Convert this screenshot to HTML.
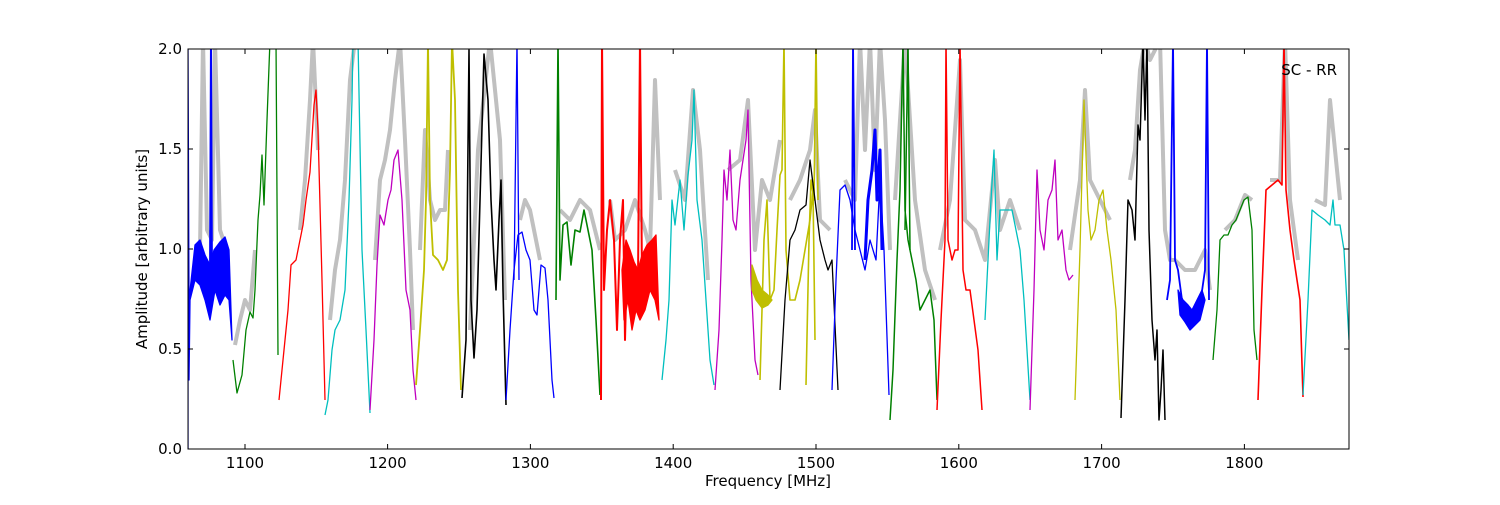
<!DOCTYPE html>
<html><head><meta charset="utf-8"><style>
body{margin:0;background:#fff;width:1500px;height:500px;overflow:hidden}
text{font-family:"DejaVu Sans","Liberation Sans",sans-serif;font-size:15px;fill:#000}
</style></head><body>
<svg width="1500" height="500" viewBox="0 0 1500 500">
<defs><clipPath id="c"><rect x="188" y="49" width="1161" height="400"/></clipPath></defs>
<g clip-path="url(#c)" fill="none" stroke-linejoin="round">
<g stroke="#c0c0c0" stroke-width="4">
<polyline points="200,250 203,40 207,230 212,240 215,40 220,230 225,245"/>
<polyline points="235,345 240,320 245,300 250,310 255,250"/>
<polyline points="300,230 305,180 310,100 313,40 318,150"/>
<polyline points="330,320 335,270 340,240 345,180 350,80 355,40"/>
<polyline points="375,260 380,180 385,160 390,130 395,80 400,40 405,140 410,250 413,330"/>
<polyline points="420,250 425,130 430,200 435,220 440,210 445,210 448,150"/>
<polyline points="470,330 478,150 490,40 500,140 505,300"/>
<polyline points="520,220 525,200 530,210 540,260"/>
<polyline points="560,210 570,220 580,200 590,210 600,250"/>
<polyline points="610,200 615,240 625,230 635,200 645,230 650,250 655,80 660,200"/>
<polyline points="675,170 685,200 693,90 700,150 708,280"/>
<polyline points="728,170 740,160 748,100 755,250 762,180 770,200 775,170 780,140"/>
<polyline points="790,200 800,180 810,150 815,110 820,220 830,230"/>
<polyline points="845,180 855,200 860,40 865,150 870,40 875,170 880,40 885,120 890,250"/>
<polyline points="895,200 905,40 915,200 925,270 935,300"/>
<polyline points="940,250 950,200 960,60 965,220 975,230 985,260 995,160 1000,230 1010,200 1020,230"/>
<polyline points="1070,250 1080,180 1085,90 1090,180 1100,200 1110,220"/>
<polyline points="1130,180 1135,150 1140,70 1145,40 1150,60 1160,40 1165,230 1170,260 1175,260 1185,270 1195,270 1205,250 1210,290"/>
<polyline points="1225,230 1235,220 1245,195 1252,200"/>
<polyline points="1270,180 1280,180 1285,40 1290,200 1298,260"/>
<polyline points="1315,200 1325,205 1330,100 1335,150 1340,200"/>
</g>
<g stroke-width="1.3">
<polygon fill="#0000ff" stroke="#0000ff" points="189,300 195,245 200,240 205,255 210,265 214,250 220,242 225,237 229,250 232,340 229,300 225,295 220,305 215,290 210,320 205,300 200,285 195,280 190,300 189,380"/>
<polyline stroke="#0000ff" points="188,449 188,49 189,300"/>
<polyline stroke="#0000ff" stroke-width="2" points="210,280 211,40 212,290"/>
<polyline stroke="#008000" points="233,360 237,393 242,375 246,330 250,312 253,318 255,290 258,220 260,195 262,155 264,205 267,120 270,40 276,40 278,355"/>
<polyline stroke="#ff0000" points="279,400 284,350 288,310 291,265 296,260 300,240 303,225 306,200 310,172 314,105 316,90 318,130 322,280 325,400"/>
<polyline stroke="#00bfbf" points="325,415 328,400 332,350 335,330 340,320 345,290 349,200 352,100 353,40 358,40 362,250 366,330 370,413"/>
<polyline stroke="#bf00bf" points="370,410 374,340 377,265 380,215 384,225 388,200 391,190 394,160 398,150 402,200 406,290 410,310 413,370 416,400"/>
<polyline stroke="#bfbf00" stroke-width="1.8" points="416,385 420,330 424,270 426,200 428,40 430,200 433,255 438,260 443,270 447,260 450,170 452,40 455,100 458,290 461,390"/>
<polyline stroke="#000000" stroke-width="1.6" points="462,398 466,340 469,50 471,300 474,358 477,310 480,200 484,54 488,100 491,200 494,260 496,290 499,220 501,180 503,290 506,405"/>
<polyline stroke="#0000ff" points="506,400 510,330 514,270 518,235 522,232 526,250 530,260 534,310 537,315 541,265 545,268 548,300 552,380 554,398"/>
<polyline stroke="#0000ff" points="514,280 517,40 519,280"/>
<polyline stroke="#008000" stroke-width="1.6" points="556,300 558,40 560,280 563,225 567,222 571,265 575,230 580,232 584,210 588,230 592,250 596,320 600,395"/>
<polyline stroke="#ff0000" stroke-width="2" points="601,400 602,40 604,290 607,230 610,200 614,240 617,330 620,240 623,200 625,340 626,300"/>
<polygon fill="#ff0000" stroke="#ff0000" points="622,270 626,240 630,250 634,262 638,270 642,255 647,245 652,240 656,235 659,320 655,300 650,290 645,310 640,320 636,310 632,330 628,300 624,320"/>
<polyline stroke="#ff0000" stroke-width="2" points="638,280 640,40 642,280"/>
<polyline stroke="#00bfbf" points="662,380 666,340 669,300 672,200 675,225 680,180 684,230 688,175 692,140 694,90 697,200 702,240 706,300 710,360 714,385"/>
<polyline stroke="#bf00bf" points="715,390 719,330 722,240 724,170 727,200 730,150 733,220 736,230 740,180 743,160 746,140 748,110 751,280 755,360 758,375"/>
<polyline stroke="#bfbf00" stroke-width="1.6" points="760,380 764,240 767,200 770,300 774,290 777,230 780,175 782,170 784,40 786,250 790,300 795,300 800,280 805,250 810,220 813,190 815,340"/>
<polygon fill="#bfbf00" stroke="#bfbf00" points="752,265 757,280 762,290 768,295 772,300 768,305 762,308 756,300 752,290"/>
<polyline stroke="#bfbf00" stroke-width="1.6" points="806,385 809,240 811,180 814,200 816,40 818,200"/>
<polyline stroke="#000000" points="780,390 785,300 790,240 795,230 800,210 806,205 810,160 815,200 820,240 825,260 828,270 832,260 838,390"/>
<polyline stroke="#0000ff" points="832,390 836,280 840,190 845,185 850,200 855,230 860,250 865,270 870,240 876,260 880,180 884,250 889,395"/>
<polyline stroke="#0000ff" stroke-width="3" points="865,260 868,200 872,170 875,130 877,200 880,150 882,250"/>
<polyline stroke="#0000ff" stroke-width="1.8" points="852,250 853,40 855,250"/>
<polyline stroke="#008000" stroke-width="1.5" points="890,420 893,370 897,260 900,190 903,40 905,210 908,240 912,260 916,280 920,310 925,300 930,290 934,320 937,400"/>
<polyline stroke="#008000" stroke-width="1.5" points="905,230 908,40 910,250"/>
<polyline stroke="#ff0000" stroke-width="1.5" points="937,410 941,320 945,240 946,40 948,240 952,260 955,250 958,250 960,40 963,270 966,290 970,290 974,320 978,350 982,410"/>
<polyline stroke="#00bfbf" points="985,320 988,260 991,200 994,150 997,260 1000,210 1004,210 1008,210 1012,210 1016,230 1020,250 1024,300 1030,400"/>
<polyline stroke="#bf00bf" points="1030,410 1034,290 1037,170 1040,230 1044,250 1048,200 1052,190 1055,160 1058,240 1062,230 1066,270 1069,280 1073,275"/>
<polyline stroke="#bfbf00" points="1075,400 1080,250 1084,100 1088,210 1091,240 1095,230 1099,200 1103,190 1107,230 1111,260 1116,310 1120,400"/>
<polyline stroke="#000000" stroke-width="1.5" points="1121,418 1125,300 1128,200 1132,210 1135,240 1138,125 1140,140 1143,40 1145,120 1147,40 1149,230 1152,320 1155,360 1157,330 1159,420 1161,390 1163,350 1165,420"/>
<polyline stroke="#0000ff" stroke-width="1.8" points="1167,300 1170,280 1173,40 1175,260 1178,270 1182,300 1186,310 1190,320 1195,310 1200,305 1205,270 1207,40 1209,300"/>
<polygon fill="#0000ff" stroke="#0000ff" points="1178,290 1183,300 1188,305 1192,310 1197,300 1202,290 1205,300 1200,320 1195,325 1190,330 1185,322 1180,315"/>
<polyline stroke="#008000" points="1213,360 1217,310 1220,240 1224,235 1228,235 1232,225 1236,220 1240,210 1244,200 1248,197 1252,230 1254,330 1257,360"/>
<polyline stroke="#ff0000" stroke-width="1.6" points="1258,400 1262,290 1266,190 1272,185 1278,180 1282,185 1284,40 1286,190 1290,230 1294,260 1297,280 1300,300 1303,397"/>
<polyline stroke="#00bfbf" points="1303,395 1308,300 1312,210 1318,215 1325,220 1330,225 1333,200 1335,225 1340,225 1344,250 1349,340"/>
</g>
</g>
<rect x="188" y="49" width="1161" height="400" fill="none" stroke="#000" stroke-width="1"/>
<g stroke="#000" stroke-width="1">
<path d="M245,449v-5M387.6,449v-5M530.4,449v-5M673.2,449v-5M816,449v-5M958.8,449v-5M1101.6,449v-5M1244.4,449v-5"/>
<path d="M245,49v5M387.6,49v5M530.4,49v5M673.2,49v5M816,49v5M958.8,49v5M1101.6,49v5M1244.4,49v5"/>
<path d="M188,449h5M188,349h5M188,249h5M188,149h5M188,49h5M1349,449h-5M1349,349h-5M1349,249h-5M1349,149h-5M1349,49h-5"/>
</g>
<g text-anchor="middle">
<text x="245" y="468">1100</text><text x="387.6" y="468">1200</text><text x="530.4" y="468">1300</text><text x="673.2" y="468">1400</text><text x="816" y="468">1500</text><text x="958.8" y="468">1600</text><text x="1101.6" y="468">1700</text><text x="1244.4" y="468">1800</text>
<text x="768" y="486">Frequency [MHz]</text>
</g>
<g text-anchor="end">
<text x="182" y="454">0.0</text><text x="182" y="354">0.5</text><text x="182" y="254">1.0</text><text x="182" y="154">1.5</text><text x="182" y="54">2.0</text>
<text x="1337" y="75">SC - RR</text>
</g>
<text transform="translate(147,249) rotate(-90)" text-anchor="middle">Amplitude [arbitrary units]</text>
</svg>
</body></html>
